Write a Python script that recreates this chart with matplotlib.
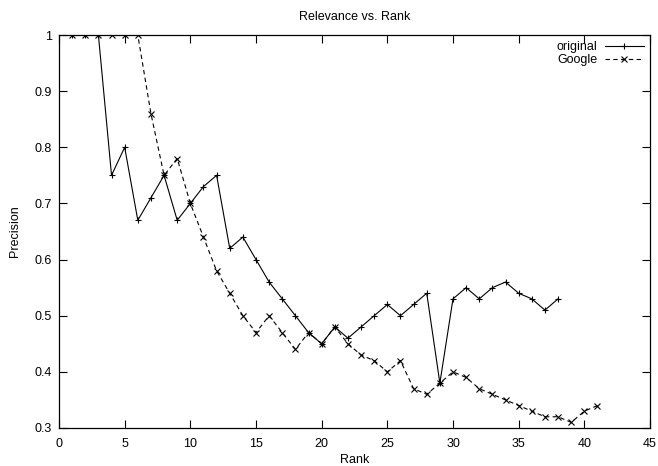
import matplotlib
matplotlib.use("Agg")
import matplotlib.pyplot as plt
from matplotlib.ticker import FormatStrFormatter

# rank positions
rank_original = list(range(1, 39))
rank_google = list(range(1, 42))

# precision at each rank
precision_original = [1, 1, 1, 0.75, 0.8, 0.67, 0.71, 0.75, 0.67, 0.7,
                      0.73, 0.75, 0.62, 0.64, 0.6, 0.56, 0.53, 0.5, 0.47, 0.45,
                      0.48, 0.46, 0.48, 0.5, 0.52, 0.5, 0.52, 0.54, 0.38, 0.53,
                      0.55, 0.53, 0.55, 0.56, 0.54, 0.53, 0.51, 0.53]
precision_google = [1, 1, 1, 1, 1, 1, 0.86, 0.75, 0.78, 0.7,
                    0.64, 0.58, 0.54, 0.5, 0.47, 0.5, 0.47, 0.44, 0.47, 0.45,
                    0.48, 0.45, 0.43, 0.42, 0.4, 0.42, 0.37, 0.36, 0.38, 0.4,
                    0.39, 0.37, 0.36, 0.35, 0.34, 0.33, 0.32, 0.32, 0.31, 0.33,
                    0.34]

plt.rcParams["font.family"] = ["Liberation Sans", "DejaVu Sans"]
plt.rcParams["font.size"] = 9

fig = plt.figure(figsize=(6.58, 4.66), dpi=100)
ax = fig.add_axes([59 / 658, 1 - 428 / 466, 591 / 658, 393 / 466])

ax.plot(rank_original, precision_original, color="black", lw=0.8,
        marker="+", markersize=5, mew=0.8, label="original")
ax.plot(rank_google, precision_google, color="black", lw=0.8,
        linestyle=(0, (4, 3)), marker="x", markersize=4, mew=0.8,
        label="Google")

ax.set_xlim(0, 45)
ax.set_ylim(0.3, 1)
ax.set_xticks(range(0, 46, 5))
ax.set_yticks([0.3, 0.4, 0.5, 0.6, 0.7, 0.8, 0.9, 1.0])
ax.yaxis.set_major_formatter(FormatStrFormatter("%g"))
ax.tick_params(direction="in", top=True, right=True, length=6, width=0.8,
               labelsize=9, colors="black")
ax.tick_params(axis="x", pad=7)
ax.tick_params(axis="y", pad=5)
for sp in ax.spines.values():
    sp.set_linewidth(0.9)

ax.set_title("Relevance vs. Rank", fontsize=9, pad=11)
ax.set_xlabel("Rank", fontsize=9, labelpad=3)
ax.set_ylabel("Precision", fontsize=9, labelpad=9.5)

ax.legend(loc="upper right", frameon=False, markerfirst=False, numpoints=1,
          handlelength=3.1, handletextpad=0.6, labelspacing=0.1,
          borderaxespad=0.1, borderpad=0.4, fontsize=9)

fig.savefig("out.png", dpi=100)
